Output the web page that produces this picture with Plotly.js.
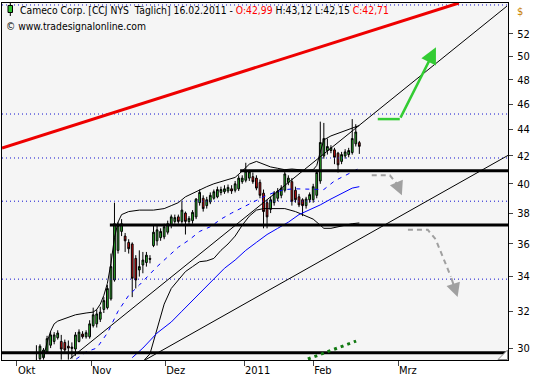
<!DOCTYPE html>
<html><head><meta charset="utf-8">
<script src="https://cdn.plot.ly/plotly-3.0.1.min.js"></script>
<style>html,body{margin:0;padding:0;background:#fff}#chart{width:533px;height:380px}</style>
</head><body><div id="chart"></div>
<script>
// Trading days (category labels), Sep 27 2010 .. Feb 16 2011
const dates = [
"2010-09-27","2010-09-28","2010-09-29","2010-09-30",
"2010-10-01","2010-10-04","2010-10-05","2010-10-06","2010-10-07","2010-10-08","2010-10-11","2010-10-12","2010-10-13","2010-10-14","2010-10-15","2010-10-18","2010-10-19","2010-10-20","2010-10-21","2010-10-22","2010-10-25","2010-10-26","2010-10-27","2010-10-28","2010-10-29",
"2010-11-01","2010-11-02","2010-11-03","2010-11-04","2010-11-05","2010-11-08","2010-11-09","2010-11-10","2010-11-11","2010-11-12","2010-11-15","2010-11-16","2010-11-17","2010-11-18","2010-11-19","2010-11-22","2010-11-23","2010-11-24","2010-11-26","2010-11-29","2010-11-30",
"2010-12-01","2010-12-02","2010-12-03","2010-12-06","2010-12-07","2010-12-08","2010-12-09","2010-12-10","2010-12-13","2010-12-14","2010-12-15","2010-12-16","2010-12-17","2010-12-20","2010-12-21","2010-12-22","2010-12-23","2010-12-27","2010-12-28","2010-12-29","2010-12-30","2010-12-31",
"2011-01-03","2011-01-04","2011-01-05","2011-01-06","2011-01-07","2011-01-10","2011-01-11","2011-01-12","2011-01-13","2011-01-14","2011-01-18","2011-01-19","2011-01-20","2011-01-21","2011-01-24","2011-01-25","2011-01-26","2011-01-27","2011-01-28","2011-01-31",
"2011-02-01","2011-02-02","2011-02-03","2011-02-04","2011-02-07","2011-02-08","2011-02-09","2011-02-10","2011-02-11","2011-02-14","2011-02-15","2011-02-16"];

const open = [
27.6,27.7,28.0,27.9,27.8,28.2,28.3,28.9,
29.1,29.45,29.5,29.8,30.15,30.35,30.55,30.35,30.3,30.1,29.98,29.95,
30.35,30.75,30.6,30.6,31.2,31.3,31.55,32.1,32.2,32.7,
33.8,35.6,36.8,36.5,36.1,36.0,35.1,34.4,34.7,34.85,
35.1,35.9,36.2,36.4,36.45,36.75,37.2,37.45,37.75,37.45,
38.0,37.45,37.5,37.75,38.7,39.0,38.5,38.75,39.0,39.1,
39.4,39.45,39.5,39.65,39.55,39.65,40.15,40.25,40.4,40.5,
40.4,40.1,39.35,38.7,38.25,38.7,39.0,39.2,39.55,40.1,
40.15,39.55,39.1,38.9,38.5,38.9,38.9,39.2,40.2,42.0,
42.4,42.4,42.45,42.2,41.6,42.0,42.1,42.25,42.9,42.99];
const high = [
27.9,28.1,28.3,28.2,28.4,28.5,29.0,29.3,
30.15,30.2,30.0,30.65,30.9,30.85,30.95,30.7,30.45,30.4,30.3,30.85,
31.0,30.9,30.95,31.5,32.2,32.1,32.25,32.8,33.5,35.4,
38.7,37.4,37.6,36.7,36.3,36.1,35.3,35.6,35.5,35.5,
35.3,37.2,37.2,37.0,37.3,37.5,37.9,37.9,37.9,38.8,
38.1,37.8,38.2,39.0,39.6,39.2,39.1,39.4,39.6,39.8,
39.8,39.9,39.95,39.9,40.2,40.6,40.6,41.5,41.0,40.8,
40.6,40.3,39.6,38.9,39.1,39.5,39.7,39.9,41.0,40.6,
40.4,39.8,39.3,39.0,39.1,39.4,40.0,41.0,44.6,44.5,
43.3,42.8,42.6,42.3,42.3,42.5,42.6,44.8,44.4,43.12];
const low = [
27.3,27.5,27.7,27.6,27.6,27.9,28.2,28.7,
28.9,29.3,29.4,29.7,30.0,30.2,30.45,29.4,29.8,29.4,29.45,29.6,
30.3,30.5,30.5,30.5,31.1,31.1,31.4,31.9,32.1,32.6,
33.7,35.4,36.5,35.5,35.4,32.8,33.3,34.0,34.2,34.6,
34.8,35.8,35.9,36.2,36.3,36.6,37.0,37.3,37.3,37.3,
36.6,37.2,37.3,37.6,38.5,38.1,38.3,38.6,38.9,39.0,
39.2,39.3,39.35,39.3,39.4,39.5,40.0,40.1,40.2,40.0,
39.55,39.0,37.0,37.0,38.0,38.5,38.8,39.0,39.4,39.9,
38.5,38.7,38.4,37.8,38.3,38.7,38.7,39.0,40.0,41.8,
42.1,42.2,41.4,40.8,41.4,41.8,41.9,42.1,42.7,42.15];
const close = [
27.7,28.0,27.9,27.7,28.3,28.1,28.9,29.1,
29.3,30.1,29.9,30.5,30.7,30.7,30.8,29.95,29.9,30.0,30.05,30.7,
30.85,30.6,30.82,31.3,31.8,31.85,31.95,32.6,33.3,34.6,
37.3,37.2,37.3,36.2,35.7,33.9,33.8,34.6,35.0,35.3,
35.05,36.75,36.9,36.8,37.1,37.3,37.75,37.7,37.45,38.2,
37.45,37.65,38.05,38.95,39.4,38.3,38.9,39.2,39.45,39.6,
39.6,39.65,39.75,39.5,40.0,40.4,40.4,40.9,40.85,40.15,
39.7,39.2,38.1,37.75,38.9,39.35,39.5,39.7,40.7,40.4,
38.8,38.9,38.55,38.5,38.95,39.25,39.8,40.8,43.0,43.3,
42.7,42.6,41.9,41.35,42.1,42.3,42.4,43.3,43.8,42.71];

// Upper / lower Bollinger band (read at bar indices)
const ubIdx = [10,11,12,13,14,16,19,22,24,25,26,27,28,29,30,31,32,34,37,41,44,46,48,50,52,54,56,58,60,62,64,66,68,70,72,74,76,78,80,82,84,86,87,88,89,91,93,95,97,99];
const ubVal = [29.5,30.3,30.9,31.3,31.45,31.6,31.8,31.9,31.95,32.1,32.4,32.9,33.6,34.8,36.4,37.4,37.9,38.1,38.2,38.2,38.3,38.5,38.7,39.1,39.35,39.6,39.8,40.0,40.15,40.3,40.45,40.9,41.4,41.6,41.4,41.2,41.1,41.0,41.05,41.0,40.95,41.0,41.3,42.3,43.2,43.5,43.7,43.9,44.1,44.3];
const lbIdx = [37,38,40,42,44,46,48,50,52,54,56,58,60,62,64,66,68,70,72,75,78,81,84,86,88,89,91,94,97,99];
const lbVal = [29.0,29.3,29.7,31.0,32.4,33.3,33.8,34.3,34.6,34.9,34.95,35.1,35.6,36.0,36.5,37.2,37.8,38.2,38.3,38.3,38.3,38.1,37.8,37.6,37.2,37.0,37.0,37.15,37.3,37.35];
// Moving averages
const maIdx = [17,19,22,25,28,31,34,37,42,45,48,51,54,57,60,63,66,69,72,75,78,81,84,86,89,92,95,99];
const maVal = [29.2,29.4,29.8,30.0,30.8,32.0,32.9,33.5,34.6,35.2,35.8,36.25,36.8,37.1,37.6,38.0,38.35,38.7,39.1,39.4,39.6,39.65,39.65,39.6,39.6,40.2,40.6,41.1];
const ma50Idx = [35,38,42,46,49,52,55,58,61,64,67,70,73,76,79,82,85,88,91,94,97,99];
const ma50Val = [29.5,30.0,30.8,31.4,32.0,32.6,33.2,33.85,34.5,35.0,35.6,36.1,36.6,37.0,37.4,37.9,38.2,38.55,38.95,39.35,39.7,39.8];

// Drawn lines
const redIdx = [-1.7,127.05], redVal = [42.59,54.9];
const t1Idx = [17.5,140.6], t1Val = [29.45,54.6];
const t2Idx = [38.6,141.1], t2Val = [29.38,42.07];
const levelVals = [40.93,37.22,29.76];
const levelStart = [65.4,28.7,-1.7];
const gridLevels = [54.71,45.2,41.85,38.8,33.85];
const greenDotIdx = [84.5,98.1], greenDotVal = [29.43,30.37];
const greenArrIdx = [104.2,110.4], greenArrVal = [44.8,44.8];
const greenTip = [120.6,50.8];
const gray1Idx = [102.5,107.6,109.6], gray1Val = [40.6,40.6,40.0];
const gray1Tip = [111.0,39.2];
const gray2Idx = [112.7,118.3,120.5,124.8], gray2Val = [36.9,36.9,36.3,34.0];
const gray2Tip = [126.7,32.8];

const yTicks = [30,32,34,36,38,40,42,44,46,48,50,52];
const xTickVals = [2.5,23.4,44.3,66.5,86.0,109.9];
const xTickText = ['Okt','Nov','Dez','2011','Feb','Mrz'];

const xMin = -1.7, xMax = 140.9;
const idx = dates.map((d,i)=>i);
const L = Math.log10;
const FONT = "Tahoma, 'DejaVu Sans Condensed', 'DejaVu Sans', sans-serif";

const traces = [];
gridLevels.forEach(v => traces.push({x:[xMin,xMax],y:[v,v],mode:'lines',line:{color:'#1010d0',width:1,dash:'1px,3px'},hoverinfo:'skip'}));
traces.push({x:ubIdx,y:ubVal,mode:'lines',line:{color:'#000',width:1},hoverinfo:'skip'});
traces.push({x:lbIdx,y:lbVal,mode:'lines',line:{color:'#000',width:1},hoverinfo:'skip'});
traces.push({x:ma50Idx,y:ma50Val,mode:'lines',line:{color:'#0000ff',width:1},hoverinfo:'skip'});
traces.push({x:maIdx,y:maVal,mode:'lines',line:{color:'#0000ff',width:1,dash:'4px,5px'},hoverinfo:'skip'});
traces.push({type:'candlestick',x:idx,open:open,high:high,low:low,close:close,
  increasing:{line:{color:'#000',width:1},fillcolor:'#2fc02f'},
  decreasing:{line:{color:'#000',width:1},fillcolor:'#e01010'},
  whiskerwidth:0,hoverinfo:'skip'});
traces.push({x:t1Idx,y:t1Val,mode:'lines',line:{color:'#000',width:1},hoverinfo:'skip'});
traces.push({x:t2Idx,y:t2Val,mode:'lines',line:{color:'#000',width:1},hoverinfo:'skip'});
levelVals.forEach((v,k) => traces.push({x:[levelStart[k],xMax],y:[v,v],mode:'lines',line:{color:'#000',width:3},hoverinfo:'skip'}));
traces.push({x:redIdx,y:redVal,mode:'lines',line:{color:'#ee0000',width:3},hoverinfo:'skip'});
traces.push({x:greenDotIdx,y:greenDotVal,mode:'lines',line:{color:'#127a12',width:3,dash:'3px,4px'},hoverinfo:'skip'});
traces.push({x:greenArrIdx,y:greenArrVal,mode:'lines',line:{color:'#33cc33',width:2.5},hoverinfo:'skip'});
traces.push({x:gray1Idx,y:gray1Val,mode:'lines',line:{color:'#a0a0a0',width:2,dash:'5px,4px'},hoverinfo:'skip'});
traces.push({x:gray2Idx,y:gray2Val,mode:'lines',line:{color:'#a0a0a0',width:2,dash:'5px,4px'},hoverinfo:'skip'});

function arrow(from, to, color, w, size){
  return {x:to[0],y:L(to[1]),ax:from[0],ay:L(from[1]),xref:'x',yref:'y',axref:'x',ayref:'y',
    text:'',showarrow:true,arrowhead:2,arrowsize:size,arrowwidth:w,arrowcolor:color,standoff:0,startstandoff:0};
}
const px2x = p => (p-2)/506, py2y = p => 1-(p-3)/357;

const annotations = [
  {xref:'paper',yref:'paper',x:px2x(18),y:py2y(10),xanchor:'left',yanchor:'middle',showarrow:false,
   font:{family:FONT,size:10.3,color:'#000'},
   text:'Cameco Corp. [CCJ NYS\u00a0\u00a0Täglich] 16.02.2011 - <span style="color:#ff0000">O:42,99</span> H:43,12 L:42,15 <span style="color:#ff0000">C:42,71</span>'},
  {xref:'paper',yref:'paper',x:px2x(4),y:py2y(26),xanchor:'left',yanchor:'middle',showarrow:false,
   font:{family:FONT,size:10.3,color:'#000'},text:'© www.tradesignalonline.com'},
  {xref:'paper',yref:'paper',x:px2x(515),y:py2y(11),xanchor:'left',yanchor:'middle',showarrow:false,
   font:{family:FONT,size:11,color:'#c88000'},text:'$'},
  arrow([greenArrIdx[1],greenArrVal[1]], greenTip, '#33cc33', 2.5, 1.3),
  arrow([gray1Idx[2],gray1Val[2]], gray1Tip, '#a0a0a0', 2, 1.4),
  arrow([gray2Idx[3],gray2Val[3]], gray2Tip, '#a0a0a0', 2, 1.4)
];

const shapes = [
  {type:'line',xref:'paper',yref:'paper',x0:px2x(10.3),x1:px2x(10.3),y0:py2y(3),y1:py2y(16),line:{color:'#000',width:1}},
  {type:'rect',xref:'paper',yref:'paper',x0:px2x(8),x1:px2x(12.5),y0:py2y(5.5),y1:py2y(12.5),fillcolor:'#2fc02f',line:{color:'#000',width:1}},
  {type:'path',xref:'paper',yref:'paper',path:`M ${px2x(498)} ${py2y(359.5)} L ${px2x(507.5)} ${py2y(359.5)} L ${px2x(507.5)} ${py2y(350)} Z`,fillcolor:'#ffffff',line:{color:'#888',width:1}}
];

const layout = {
  width:533,height:380,margin:{l:2,r:25,t:3,b:20},
  paper_bgcolor:'#ffffff',plot_bgcolor:'#f5f5f5',showlegend:false,
  font:{family:FONT,size:11,color:'#000'},
  xaxis:{range:[xMin,xMax],tickvals:xTickVals,ticktext:xTickText,ticks:'outside',ticklen:5,tickcolor:'#444',
    ticklabelposition:'outside right',showgrid:false,zeroline:false,showline:true,mirror:true,linecolor:'#000',linewidth:1,
    rangeslider:{visible:false},fixedrange:true,tickfont:{family:FONT,size:11,color:'#000'}},
  yaxis:{type:'log',side:'right',range:[L(29.38),L(54.9)],tickvals:yTicks,ticktext:yTicks.map(String),
    ticks:'outside',ticklen:4,tickcolor:'#444',ticklabelstandoff:2,showgrid:false,zeroline:false,showline:true,mirror:true,
    linecolor:'#000',linewidth:1,fixedrange:true,tickfont:{family:FONT,size:11,color:'#000'}},
  annotations:annotations,shapes:shapes
};
Plotly.newPlot('chart',traces,layout,{staticPlot:true,displayModeBar:false});
</script></body></html>
